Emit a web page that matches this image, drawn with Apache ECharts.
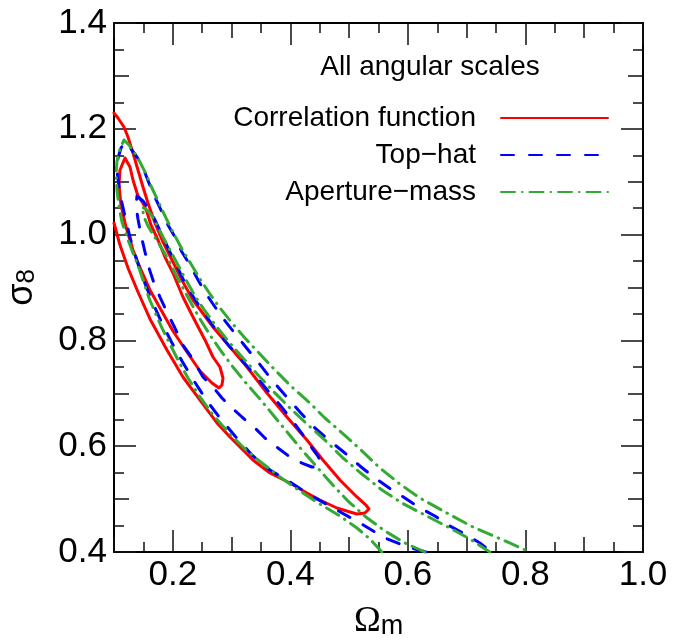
<!DOCTYPE html>
<html><head><meta charset="utf-8">
<script src="https://cdn.jsdelivr.net/npm/echarts@6/dist/echarts.min.js"></script>
<style>html,body{margin:0;padding:0;background:#fff}#main{width:684px;height:641px}</style>
</head><body><div id="main"></div>
<script>
// Tick labels
const xTickLabels = [0.2, 0.4, 0.6, 0.8, 1.0];
const yTickLabels = [0.4, 0.6, 0.8, 1.0, 1.2, 1.4];
const seriesNames = ['Correlation function', 'Top\u2212hat', 'Aperture\u2212mass'];
const panelTitle = 'All angular scales';

// Correlation function contours [Omega_m, sigma_8]
const corrOuter = [[0.1000,1.2299],[0.1068,1.2204],[0.1170,1.2034],[0.1238,1.1845],[0.1323,1.1543],[0.1408,1.1221],[0.1493,1.0900],[0.1578,1.0597],[0.1697,1.0219],[0.1833,0.9860],[0.2003,0.9482],[0.2173,0.9104],[0.2344,0.8764],[0.2684,0.8253],[0.2973,0.7875],[0.3262,0.7497],[0.3602,0.7006],[0.3942,0.6552],[0.4282,0.6117],[0.4554,0.5739],[0.4844,0.5361],[0.5133,0.5040],[0.5286,0.4888],[0.5337,0.4813],[0.5269,0.4737],[0.5133,0.4718],[0.5014,0.4756],[0.4793,0.4832],[0.4503,0.4983],[0.4282,0.5115],[0.3993,0.5304],[0.3653,0.5493],[0.3364,0.5739],[0.2973,0.6174],[0.2752,0.6439],[0.2463,0.6873],[0.2173,0.7308],[0.1901,0.7819],[0.1612,0.8405],[0.1408,0.8915],[0.1238,0.9369],[0.1102,0.9803],[0.1000,1.0219]];
const corrInner = [[0.1187,1.1448],[0.1272,1.1278],[0.1323,1.1032],[0.1408,1.0730],[0.1493,1.0597],[0.1561,1.0427],[0.1629,1.0182],[0.1748,0.9898],[0.1867,0.9577],[0.2003,0.9274],[0.2173,0.8821],[0.2344,0.8442],[0.2548,0.8008],[0.2684,0.7686],[0.2803,0.7497],[0.2854,0.7289],[0.2837,0.7157],[0.2786,0.7100],[0.2667,0.7195],[0.2463,0.7422],[0.2241,0.7781],[0.2003,0.8178],[0.1782,0.8613],[0.1612,0.8953],[0.1459,0.9331],[0.1323,0.9709],[0.1204,1.0144],[0.1119,1.0560],[0.1085,1.0938],[0.1102,1.1221],[0.1187,1.1448]];

// Top-hat contours
const topHatOuter = [[0.6306,0.4000],[0.6000,0.4095],[0.5609,0.4265],[0.5184,0.4548],[0.4759,0.4813],[0.4333,0.5078],[0.3993,0.5323],[0.3653,0.5550],[0.3347,0.5834],[0.3058,0.6193],[0.2803,0.6533],[0.2582,0.6855],[0.2361,0.7233],[0.2156,0.7611],[0.1969,0.7989],[0.1799,0.8367],[0.1646,0.8745],[0.1510,0.9123],[0.1391,0.9501],[0.1289,0.9879],[0.1204,1.0257],[0.1136,1.0597],[0.1085,1.0919],[0.1051,1.1202],[0.1068,1.1448],[0.1119,1.1637],[0.1187,1.1751],[0.1289,1.1618],[0.1391,1.1467],[0.1476,1.1316],[0.1561,1.1070],[0.1663,1.0787],[0.1782,1.0503],[0.1918,1.0182],[0.2037,0.9955],[0.2156,0.9671],[0.2293,0.9425],[0.2412,0.9180],[0.2548,0.8915],[0.2684,0.8688],[0.2837,0.8442],[0.3024,0.8178],[0.3228,0.7894],[0.3449,0.7592],[0.3687,0.7252],[0.3908,0.6968],[0.4163,0.6647],[0.4418,0.6344],[0.4673,0.6098],[0.4929,0.5871],[0.5184,0.5626],[0.5439,0.5399],[0.5728,0.5172],[0.5949,0.5021],[0.6204,0.4832],[0.6459,0.4681],[0.6714,0.4492],[0.6969,0.4340],[0.7224,0.4170],[0.7428,0.4000]];
const topHatInner = [[0.1391,1.0730],[0.1493,1.0635],[0.1612,1.0465],[0.1714,1.0238],[0.1816,0.9993],[0.1918,0.9747],[0.2054,0.9444],[0.2190,0.9123],[0.2361,0.8802],[0.2531,0.8518],[0.2735,0.8197],[0.2973,0.7875],[0.3262,0.7516],[0.3551,0.7138],[0.3823,0.6779],[0.4027,0.6495],[0.4214,0.6212],[0.4367,0.5966],[0.4469,0.5815],[0.4520,0.5701],[0.4469,0.5607],[0.4367,0.5607],[0.4197,0.5682],[0.3993,0.5796],[0.3789,0.5966],[0.3568,0.6155],[0.3398,0.6344],[0.3177,0.6552],[0.3007,0.6722],[0.2837,0.6911],[0.2684,0.7119],[0.2514,0.7308],[0.2327,0.7667],[0.2173,0.7913],[0.2037,0.8234],[0.1901,0.8537],[0.1782,0.8820],[0.1680,0.9085],[0.1595,0.9369],[0.1527,0.9671],[0.1459,0.9993],[0.1408,1.0295],[0.1374,1.0541],[0.1391,1.0730]];

// Aperture-mass contours
const apertureOuter = [[0.5558,0.4000],[0.5354,0.4246],[0.5133,0.4454],[0.4844,0.4681],[0.4503,0.4907],[0.4163,0.5153],[0.3823,0.5418],[0.3517,0.5682],[0.3228,0.5947],[0.2939,0.6268],[0.2684,0.6590],[0.2463,0.6930],[0.2259,0.7289],[0.2088,0.7630],[0.1952,0.7932],[0.1816,0.8234],[0.1697,0.8537],[0.1595,0.8802],[0.1510,0.9085],[0.1425,0.9369],[0.1323,0.9652],[0.1221,0.9955],[0.1136,1.0238],[0.1085,1.0541],[0.1051,1.0843],[0.1034,1.1127],[0.1051,1.1391],[0.1102,1.1618],[0.1170,1.1789],[0.1255,1.1694],[0.1340,1.1562],[0.1442,1.1373],[0.1544,1.1146],[0.1646,1.0881],[0.1765,1.0597],[0.1884,1.0314],[0.2020,1.0011],[0.2156,0.9728],[0.2310,0.9444],[0.2463,0.9161],[0.2633,0.8877],[0.2803,0.8613],[0.3007,0.8329],[0.3228,0.8045],[0.3483,0.7743],[0.3738,0.7441],[0.4027,0.7119],[0.4333,0.6817],[0.4588,0.6533],[0.4844,0.6287],[0.5184,0.5947],[0.5524,0.5588],[0.5864,0.5285],[0.6204,0.5021],[0.6663,0.4737],[0.7105,0.4473],[0.7616,0.4227],[0.8075,0.4000]];
const apertureInner = [[0.6289,0.4000],[0.5949,0.4170],[0.5609,0.4397],[0.5286,0.4662],[0.4980,0.4964],[0.4707,0.5285],[0.4452,0.5607],[0.4197,0.5928],[0.3959,0.6250],[0.3721,0.6571],[0.3483,0.6892],[0.3245,0.7195],[0.3024,0.7497],[0.2820,0.7800],[0.2633,0.8102],[0.2463,0.8405],[0.2310,0.8707],[0.2173,0.8991],[0.2037,0.9274],[0.1918,0.9539],[0.1799,0.9766],[0.1680,0.9974],[0.1578,1.0163],[0.1510,1.0333],[0.1476,1.0522],[0.1561,1.0465],[0.1646,1.0352],[0.1731,1.0182],[0.1833,0.9955],[0.1952,0.9709],[0.2088,0.9425],[0.2224,0.9142],[0.2378,0.8839],[0.2548,0.8556],[0.2735,0.8272],[0.2956,0.7970],[0.3194,0.7667],[0.3449,0.7346],[0.3704,0.7044],[0.3993,0.6722],[0.4282,0.6420],[0.4588,0.6117],[0.4895,0.5777],[0.5218,0.5474],[0.5558,0.5172],[0.5898,0.4926],[0.6289,0.4699],[0.6714,0.4454],[0.7054,0.4246],[0.7394,0.4000]];

const FONT = 'Liberation Sans, Arial, Helvetica, sans-serif';
const RED = '#ff0000', BLUE = '#0000ff', GREEN = '#33aa33';
const solid = 'solid', dashed = [13, 15], dashDot = [14, 7, 0.5, 7];

const chart = echarts.init(document.getElementById('main'), null, {renderer: 'canvas'});
const gridRect = {left: 114, right: 41, top: 23, bottom: 89, containLabel: false, outerBoundsMode: 'none'};
const tickStyle = {color: '#111', width: 1.5};
const axisLineStyle = {color: '#000', width: 2};
const fmt = v => Number(v).toFixed(1);

function majorX(position, withLabels) {
  return {
    gridIndex: 0, type: 'value', position, min: 0.1, max: 1.0,
    axisLine: {show: true, onZero: false, lineStyle: axisLineStyle},
    axisTick: {show: true, inside: true, length: 22, customValues: xTickLabels, lineStyle: tickStyle},
    axisLabel: withLabels ? {show: true, customValues: xTickLabels, formatter: fmt, fontSize: 35, fontFamily: FONT, color: '#000', margin: 6} : {show: false},
    splitLine: {show: false},
    name: withLabels ? '{o|\u03A9}{m|m}' : '',
    nameLocation: 'middle', nameGap: 52,
    nameTextStyle: {rich: {
      o: {fontFamily: 'Liberation Serif, Times New Roman, serif', fontSize: 36, lineHeight: 36, verticalAlign: 'bottom', color: '#000'},
      m: {fontFamily: FONT, fontSize: 27, lineHeight: 27, verticalAlign: 'bottom', color: '#000'}
    }}
  };
}
function majorY(position, withLabels) {
  return {
    gridIndex: 0, type: 'value', position, min: 0.4, max: 1.4, interval: 0.2,
    axisLine: {show: true, onZero: false, lineStyle: axisLineStyle},
    axisTick: {show: true, inside: true, length: 22, lineStyle: tickStyle},
    axisLabel: withLabels ? {show: true, formatter: fmt, fontSize: 35, fontFamily: FONT, color: '#000', margin: 7} : {show: false},
    splitLine: {show: false},
    name: withLabels ? '{s|\u03C3}{n|8}' : '',
    nameLocation: 'middle', nameGap: 74, nameRotate: 90,
    nameTextStyle: {rich: {
      s: {fontFamily: FONT, fontSize: 36, lineHeight: 36, verticalAlign: 'bottom', color: '#000'},
      n: {fontFamily: FONT, fontSize: 26, lineHeight: 20, verticalAlign: 'bottom', color: '#000'}
    }}
  };
}
function minorX(position) {
  return {
    gridIndex: 1, type: 'value', position, min: 0.1, max: 1.0, interval: 0.1,
    axisLine: {show: false, onZero: false},
    axisTick: {show: true, inside: true, length: 15, lineStyle: tickStyle},
    minorTick: {show: true, splitNumber: 2, length: 10, lineStyle: tickStyle},
    axisLabel: {show: false}, splitLine: {show: false}, minorSplitLine: {show: false}
  };
}
function minorY(position) {
  return {
    gridIndex: 1, type: 'value', position, min: 0.4, max: 1.4, interval: 0.1,
    axisLine: {show: false, onZero: false},
    axisTick: {show: true, inside: true, length: 15, lineStyle: tickStyle},
    minorTick: {show: true, splitNumber: 2, length: 10, lineStyle: tickStyle},
    axisLabel: {show: false}, splitLine: {show: false}, minorSplitLine: {show: false}
  };
}

function contour(name, data, color, type) {
  return {
    type: 'line', name, data, xAxisIndex: 0, yAxisIndex: 0,
    symbol: 'none', showSymbol: false, silent: true, clip: true,
    color, itemStyle: {color},
    lineStyle: {color, width: 3, type, cap: 'round', join: 'round'}
  };
}

chart.setOption({
  animation: false,
  backgroundColor: '#fff',
  textStyle: {fontFamily: FONT},
  grid: [Object.assign({}, gridRect), Object.assign({}, gridRect)],
  xAxis: [majorX('bottom', true), majorX('top', false), minorX('bottom'), minorX('top')],
  yAxis: [majorY('left', true), majorY('right', false), minorY('left'), minorY('right')],
  legend: {
    data: seriesNames, orient: 'vertical', align: 'right', right: 75, top: 104,
    padding: 0, itemGap: 9, itemWidth: 107, itemHeight: 14, selectedMode: false,
    itemStyle: {opacity: 0, borderWidth: 0},
    lineStyle: {width: 2},
    textStyle: {fontSize: 28, fontFamily: FONT, color: '#000', padding: [0, 20, 0, 0]}
  },
  graphic: [{
    type: 'text', x: 430, y: 67, silent: true,
    style: {text: panelTitle, fontSize: 28, fontFamily: FONT, fill: '#000', align: 'center', verticalAlign: 'middle'}
  }],
  series: [
    contour(seriesNames[0], corrOuter, RED, solid),
    contour(seriesNames[0], corrInner, RED, solid),
    contour(seriesNames[1], topHatOuter, BLUE, dashed),
    contour(seriesNames[1], topHatInner, BLUE, dashed),
    contour(seriesNames[2], apertureOuter, GREEN, dashDot),
    contour(seriesNames[2], apertureInner, GREEN, dashDot)
  ]
});
</script></body></html>
